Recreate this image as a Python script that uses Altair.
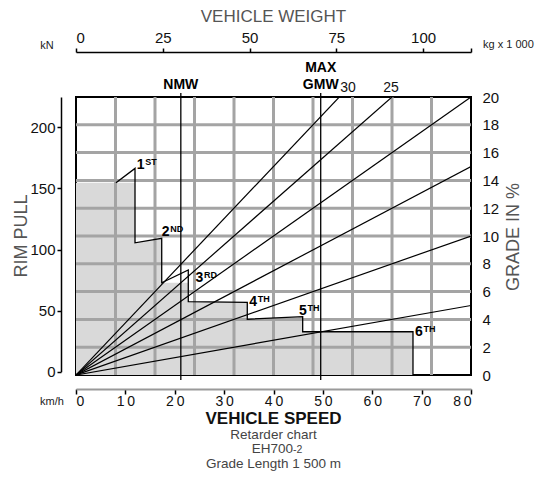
import altair as alt
import pandas as pd

FONT = "Liberation Sans"
W, H = 395, 278
GRID = "#a4a4a4"
FILL = "#d9d9d9"

# ---- data ----
speed_ticks = [0, 10, 20, 30, 40, 50, 60, 70, 80]
grid_speeds = [8, 16, 24, 32, 40, 48, 56, 64, 72]
grade_ticks = [0, 2, 4, 6, 8, 10, 12, 14, 16, 18, 20]
grid_grades = [2, 4, 6, 8, 10, 12, 14, 16, 18]
rim_ticks = [0, 50, 100, 150, 200]
weight_ticks = [0, 25, 50, 75, 100]
weight_max = 113.8
rim_max = 224.8
rim_floor = -2.7
grade_lines = [5, 10, 15, 20, 25, 30]

# retarder envelope (shaded): speed km/h, rim pull kN (gear-change steps)
fill_speed = [0, 11.95, 11.951, 17.36, 17.361, 22.74, 22.741, 34.69, 34.691, 45.91, 45.911, 68.25]
fill_rim = [154.6, 154.6, 105.5, 109.1, 72.8, 72.8, 57.3, 56.8, 42.9, 45.0, 32.7, 32.7]

# gear outline
outline_speed = [8.10, 11.95, 11.95, 17.36, 17.36, 22.74, 22.74, 34.69, 34.69, 45.91, 45.91, 68.25, 68.25]
outline_rim = [154.6, 166.4, 105.5, 109.1, 72.8, 83.2, 57.3, 56.8, 42.9, 45.0, 32.7, 32.7, -2.7]

gear_digits = ["1", "2", "3", "4", "5", "6"]
gear_suffix = ["ST", "ND", "RD", "TH", "TH", "TH"]
gear_speed = [12.29, 17.38, 24.20, 35.10, 45.16, 68.66]
gear_rim = [165.9, 111.4, 73.4, 53.8, 46.8, 29.2]

weight_names = ["NMW", "GMW"]
weight_vals = [30.2, 70.5]

top_grade_labels = ["30", "25"]
top_grade_speed = [55.1, 63.8]

# ---- scales ----
sx = alt.Scale(domain=[0, 80], nice=False, zero=False)
sg = alt.Scale(domain=[0, 20], nice=False, zero=False)
sr = alt.Scale(domain=[0, rim_max], range=[274.7, 0], nice=False, zero=False)
sw = alt.Scale(domain=[0, weight_max], nice=False, zero=False)

ax_speed = alt.Axis(orient="bottom", values=speed_ticks, offset=14, title=None, grid=False,
                    labelExpr="datum.value == 0 ? '0' : replace(datum.label, '0', '\u2009' + '0')",
                    domainColor="#9a9a9a", domainWidth=2, tickColor="black", tickWidth=1.5,
                    tickSize=5, labelFont=FONT, labelFontSize=14, labelColor="#111", labelPadding=0)
ax_grade = alt.Axis(orient="right", values=grade_ticks, title=None, grid=False, domain=False,
                    ticks=False, labelPadding=11, labelFont=FONT, labelFontSize=15,
                    labelColor="#111", labelAlign="left")
ax_rim = alt.Axis(orient="left", values=rim_ticks, title=None, grid=False, offset=15,
                  domainColor="black", domainWidth=1.5, tickColor="black", tickWidth=1.5,
                  tickSize=4, labelPadding=2, labelFont=FONT, labelFontSize=15, labelColor="#111")
ax_weight = alt.Axis(orient="top", values=weight_ticks + [weight_max], title=None, grid=False,
                     offset=45, labelExpr="datum.value > 110 ? '' : datum.label",
                     domainColor="black", domainWidth=1.5, tickColor="black", tickWidth=1.5,
                     tickSize=4, labelPadding=3, labelFont=FONT, labelFontSize=15, labelColor="#111")

# ---- tables ----
fill_df = pd.DataFrame({"speed": fill_speed, "rim": fill_rim, "base": [rim_floor] * len(fill_speed)})
ol_df = pd.DataFrame({"speed": outline_speed, "rim": outline_rim, "i": list(range(len(outline_speed)))})
gl_rows = []
for g in grade_lines:
    gl_rows.append({"g": g, "speed": 0, "grade": 0})
    gl_rows.append({"g": g, "speed": 80, "grade": g})
gl_df = pd.DataFrame(gl_rows)
gear_df = pd.DataFrame({"digit": gear_digits, "suffix": gear_suffix, "speed": gear_speed, "rim": gear_rim})
w_df = pd.DataFrame({"w": weight_vals, "name": weight_names})
tg_df = pd.DataFrame({"t": top_grade_labels, "speed": top_grade_speed})

# ---- layers ----
fill = alt.Chart(fill_df).mark_area(color=FILL, fill=FILL, opacity=1, interpolate="linear").encode(
    x=alt.X("speed:Q", scale=sx, axis=None),
    y=alt.Y("rim:Q", scale=sr, axis=ax_rim),
    y2=alt.Y2("base:Q"))

vgrid = alt.Chart(pd.DataFrame({"speed": grid_speeds})).mark_rule(color=GRID, strokeWidth=3).encode(
    x=alt.X("speed:Q", scale=sx, axis=ax_speed))
hgrid = alt.Chart(pd.DataFrame({"grade": grid_grades})).mark_rule(color=GRID, strokeWidth=3).encode(
    y=alt.Y("grade:Q", scale=sg, axis=ax_grade))

glines = alt.Chart(gl_df).mark_line(color="black", strokeWidth=1.2, clip=True).encode(
    x=alt.X("speed:Q", scale=sx, axis=None),
    y=alt.Y("grade:Q", scale=sg, axis=None),
    detail="g:N")

outline = alt.Chart(ol_df).mark_line(color="black", strokeWidth=1.3).encode(
    x=alt.X("speed:Q", scale=sx, axis=None),
    y=alt.Y("rim:Q", scale=sr, axis=None),
    order="i:Q")

wrules = alt.Chart(w_df).mark_rule(color="black", strokeWidth=1.3).encode(
    x=alt.X("w:Q", scale=sw, axis=ax_weight), y=alt.value(-4), y2=alt.value(H + 5))

wlabels = alt.Chart(w_df).mark_text(font=FONT, fontSize=14, fontWeight="bold", baseline="alphabetic").encode(
    x=alt.X("w:Q", scale=sw, axis=None), y=alt.value(-8.5), text="name:N")
maxlabel = alt.Chart(w_df[w_df["name"] == "GMW"]).mark_text(
    font=FONT, fontSize=14, fontWeight="bold", baseline="alphabetic", text="MAX").encode(
    x=alt.X("w:Q", scale=sw, axis=None), y=alt.value(-25.3))

gear_main = alt.Chart(gear_df).mark_text(font=FONT, fontSize=14, fontWeight="bold", align="left",
                                         baseline="alphabetic").encode(
    x=alt.X("speed:Q", scale=sx, axis=None), y=alt.Y("rim:Q", scale=sr, axis=None), text="digit:N")
gear_sup = alt.Chart(gear_df).mark_text(font=FONT, fontSize=9, fontWeight="bold", align="left",
                                        baseline="alphabetic", dx=8.5, dy=-4).encode(
    x=alt.X("speed:Q", scale=sx, axis=None), y=alt.Y("rim:Q", scale=sr, axis=None), text="suffix:N")

tgrade = alt.Chart(tg_df).mark_text(font=FONT, fontSize=14, baseline="alphabetic", color="#111").encode(
    x=alt.X("speed:Q", scale=sx, axis=None), y=alt.value(-5), text="t:N")


def note(text, x, y, size, color="#111", weight="normal", align="center", angle=0):
    return alt.Chart(pd.DataFrame({"t": [text]})).mark_text(
        font=FONT, fontSize=size, color=color, fontWeight=weight, align=align,
        baseline="middle", angle=angle).encode(x=alt.value(x), y=alt.value(y), text="t:N")


notes = [
    note("VEHICLE WEIGHT", 197.5, -80, 17, color="#555"),
    note("kN", -29, -51, 11, color="#222"),
    note("kg x 1 000", 407, -52, 11, color="#222", align="left"),
    note("km/h", -24, 305, 11, color="#222"),
    note("RIM PULL", -54, 139, 18, color="#555", angle=270),
    note("GRADE IN %", 438, 140, 18, color="#555", angle=270),
    note("VEHICLE SPEED", 197.5, 322, 17, color="#111", weight="bold"),
    note("Retarder chart", 197.5, 338, 13.5, color="#444"),
    note("EH700", 217, 352.3, 13.5, color="#444", align="right"),
    note("-2", 217, 353.3, 10.5, color="#444", align="left"),
    note("Grade Length 1 500 m", 197.5, 366.6, 13.5, color="#444"),
]

chart = alt.layer(
    fill, vgrid, hgrid, glines, outline, wrules, wlabels, maxlabel,
    gear_main, gear_sup, tgrade, *notes
).resolve_scale(x="independent", y="independent").properties(
    width=W, height=H,
    padding={"left": 68, "top": 89, "right": 67, "bottom": 96},
    autosize=alt.AutoSizeParams(type="none"),
    background="white",
).configure_view(stroke="black", strokeWidth=2)

chart.save("out.html", embed_options={"renderer": "svg", "actions": False})
